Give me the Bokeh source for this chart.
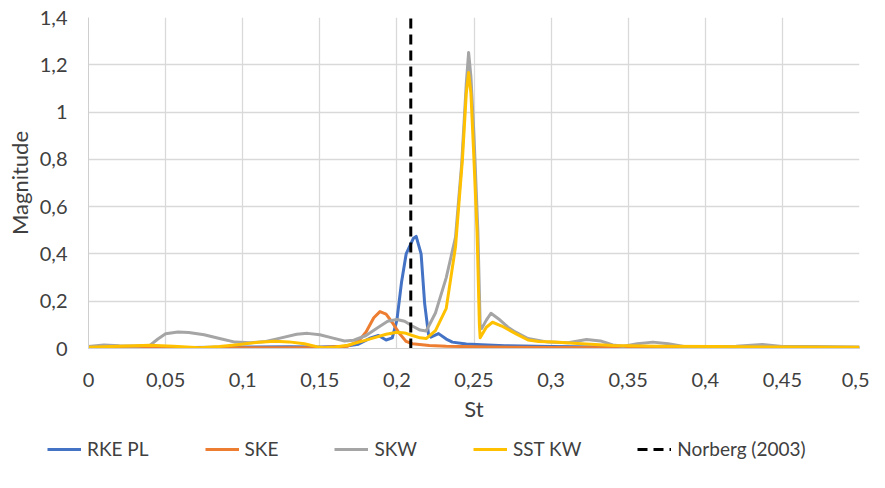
from bokeh.plotting import figure
from bokeh.layouts import column
from bokeh.models import Legend, LegendItem, FixedTicker, Range1d
from bokeh.embed import file_html
from bokeh.resources import INLINE

# ---- data ----
rke_st = [0, 0.05, 0.1, 0.13, 0.15, 0.165, 0.175, 0.183, 0.188, 0.193, 0.197, 0.2, 0.203,
          0.206, 0.2106, 0.2125, 0.2157, 0.218, 0.2205, 0.222, 0.227, 0.232, 0.236, 0.245,
          0.255, 0.27, 0.3, 0.35, 0.4, 0.5]
rke_m = [0.003, 0.003, 0.006, 0.007, 0.006, 0.008, 0.018, 0.045, 0.055, 0.036, 0.045, 0.12, 0.28,
         0.40, 0.465, 0.474, 0.40, 0.19, 0.06, 0.048, 0.063, 0.04, 0.027, 0.019,
         0.016, 0.012, 0.008, 0.005, 0.004, 0.003]

ske_st = [0, 0.1, 0.15, 0.168, 0.175, 0.18, 0.185, 0.189, 0.193, 0.197, 0.2017, 0.206, 0.21,
          0.221, 0.232, 0.26, 0.3, 0.5]
ske_m = [0.002, 0.003, 0.004, 0.01, 0.03, 0.07, 0.13, 0.156, 0.145, 0.11, 0.063, 0.03, 0.02,
         0.013, 0.009, 0.006, 0.004, 0.002]

skw_st = [0, 0.01, 0.02, 0.03, 0.04, 0.045, 0.05, 0.058, 0.065, 0.075, 0.085, 0.095, 0.105,
          0.115, 0.125, 0.135, 0.142, 0.15, 0.158, 0.166, 0.172, 0.18, 0.188, 0.194, 0.2,
          0.205, 0.21, 0.215, 0.219, 0.225, 0.232, 0.238, 0.242, 0.245, 0.2465, 0.248, 0.25,
          0.2525, 0.254, 0.255, 0.258, 0.261, 0.266, 0.272, 0.277, 0.285, 0.298, 0.311, 0.323,
          0.332, 0.34, 0.347, 0.356, 0.366, 0.376, 0.387, 0.4, 0.42, 0.437, 0.45, 0.47, 0.5]
skw_m = [0.008, 0.015, 0.012, 0.011, 0.014, 0.04, 0.062, 0.07, 0.068, 0.058, 0.042, 0.027, 0.024,
         0.03, 0.045, 0.06, 0.064, 0.058, 0.045, 0.032, 0.035, 0.055, 0.09, 0.115, 0.123,
         0.115, 0.095, 0.078, 0.074, 0.15, 0.30, 0.47, 0.78, 1.12, 1.252, 1.15, 0.9,
         0.5, 0.1, 0.085, 0.12, 0.149, 0.125, 0.09, 0.069, 0.042, 0.027, 0.024, 0.038,
         0.032, 0.015, 0.01, 0.02, 0.027, 0.02, 0.007, 0.008, 0.01, 0.017, 0.008, 0.008, 0.006]

sst_st = [0, 0.02, 0.04, 0.055, 0.072, 0.085, 0.095, 0.11, 0.121, 0.13, 0.14, 0.148, 0.153,
          0.16, 0.168, 0.176, 0.185, 0.193, 0.2, 0.205, 0.21, 0.215, 0.219, 0.225, 0.232,
          0.238, 0.2425, 0.245, 0.2465, 0.248, 0.2497, 0.252, 0.2535, 0.254, 0.258, 0.262,
          0.268, 0.277, 0.285, 0.292, 0.302, 0.32, 0.34, 0.37, 0.405, 0.45, 0.5]
sst_m = [0.005, 0.01, 0.014, 0.01, 0.003, 0.008, 0.015, 0.026, 0.031, 0.028, 0.02, 0.008, 0.003,
         0.006, 0.014, 0.028, 0.045, 0.06, 0.069, 0.066, 0.055, 0.045, 0.042, 0.076, 0.17,
         0.43, 0.8, 1.08, 1.167, 1.08, 0.84, 0.49, 0.1, 0.045, 0.09, 0.111,
         0.095, 0.063, 0.036, 0.03, 0.027, 0.02, 0.013, 0.01, 0.008, 0.006, 0.005]

norberg_st = 0.209
norberg_m = [0, 1.4]

series_names = ["RKE PL", "SKE", "SKW", "SST KW", "Norberg (2003)"]

x_ticks = [0, 0.05, 0.1, 0.15, 0.2, 0.25, 0.3, 0.35, 0.4, 0.45, 0.5]
x_tick_labels = ["0", "0,05", "0,1", "0,15", "0,2", "0,25", "0,3", "0,35", "0,4", "0,45", "0,5"]
y_ticks = [0, 0.2, 0.4, 0.6, 0.8, 1.0, 1.2, 1.4]
y_tick_labels = ["0", "0,2", "0,4", "0,6", "0,8", "1", "1,2", "1,4"]

FONT = "Lato"
TXT = "#404040"
GRID = "#D9D9D9"
COLORS = ["#4472C4", "#ED7D31", "#A5A5A5", "#FFC000", "black"]
DASHES = ["solid", "solid", "solid", "solid", "10 6"]

series = [(rke_st, rke_m), (ske_st, ske_m), (skw_st, skw_m), (sst_st, sst_m),
          ([norberg_st, norberg_st], norberg_m)]

p = figure(width=869, height=432, output_backend="svg", toolbar_location=None,
           x_range=Range1d(0, 0.5), y_range=Range1d(0, 1.4),
           min_border_left=88, min_border_right=10, min_border_top=17, min_border_bottom=84)
p.outline_line_color = None
p.background_fill_color = "white"
p.frame_align = False

for (xs, ys), c, d in zip(series, COLORS, DASHES):
    p.line(xs, ys, line_color=c, line_width=3, line_join="round", line_dash=d)

for ax, ticks, labels in ((p.xaxis[0], x_ticks, x_tick_labels), (p.yaxis[0], y_ticks, y_tick_labels)):
    ax.ticker = FixedTicker(ticks=ticks)
    ax.major_label_overrides = {t: l for t, l in zip(ticks, labels)}
    ax.major_tick_line_color = None
    ax.minor_tick_line_color = None
    ax.major_tick_out = 0
    ax.major_label_text_font = FONT
    ax.major_label_text_font_size = "20px"
    ax.major_label_text_color = TXT
    ax.axis_label_text_font = FONT
    ax.axis_label_text_font_size = "22px"
    ax.axis_label_text_font_style = "normal"
    ax.axis_label_text_color = TXT
    ax.axis_line_color = "#CFCFCF"

p.xaxis.axis_label = "St"
p.yaxis.axis_label = "Magnitude"
p.xaxis.major_label_standoff = 24
p.xaxis.axis_label_standoff = 5
p.yaxis.major_label_standoff = 21
p.yaxis.axis_label_standoff = 4

p.xgrid.ticker = FixedTicker(ticks=x_ticks)
p.ygrid.ticker = FixedTicker(ticks=y_ticks)
p.grid.grid_line_color = GRID
p.grid.grid_line_width = 1.3

# legend strip below the chart (series drawn off-view, used only for the legend glyphs)
lf = figure(width=869, height=40, output_backend="svg", toolbar_location=None,
            x_axis_location=None, y_axis_location=None,
            x_range=Range1d(0, 0.5), y_range=Range1d(10, 11),
            min_border_left=0, min_border_right=0, min_border_top=0, min_border_bottom=0)
lf.grid.visible = False
lf.outline_line_color = None
lf.frame_align = False
items = []
for (xs, ys), name, c, d in zip(series, series_names, COLORS, DASHES):
    r = lf.line(xs, ys, line_color=c, line_width=3, line_dash=d)
    items.append(LegendItem(label=name, renderers=[r]))
legend = Legend(items=items, orientation="horizontal", location=(47, 12))
legend.label_text_font = FONT
legend.label_text_font_size = "19px"
legend.label_text_color = TXT
legend.glyph_width = 34
legend.label_standoff = 6
legend.spacing = 56
legend.padding = 5
legend.margin = 0
legend.border_line_color = None
legend.background_fill_alpha = 0
lf.add_layout(legend, "center")

open("out.html", "w").write(file_html(column(p, lf, spacing=0), INLINE))
